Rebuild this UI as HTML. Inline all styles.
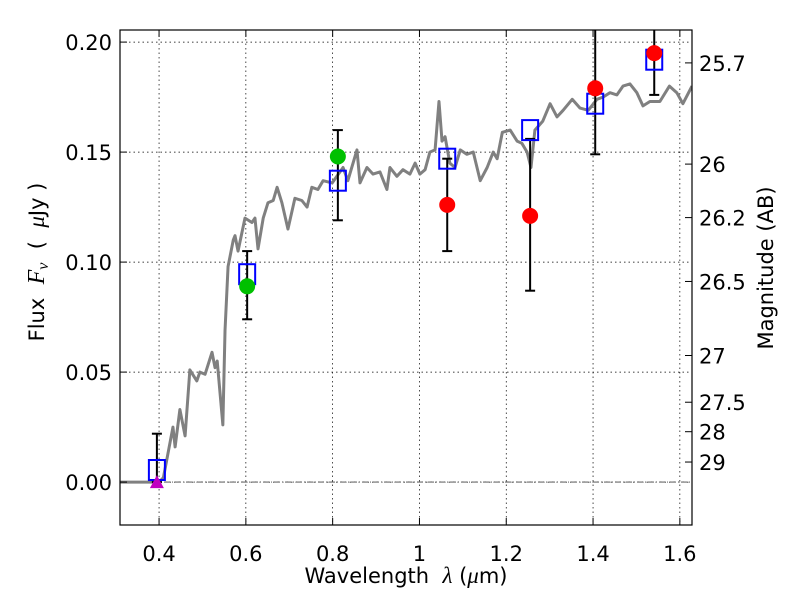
<!DOCTYPE html>
<html><head><meta charset="utf-8"><style>
body{margin:0;background:#fff;}
svg{font-family:"DejaVu Sans","Liberation Sans",sans-serif;}
</style></head><body>
<svg id="chart" width="800" height="600" xmlns="http://www.w3.org/2000/svg"></svg>
<script>
const xTicks=[0.4,0.6,0.8,1.0,1.2,1.4,1.6];
const xTickLabels=["0.4","0.6","0.8","1","1.2","1.4","1.6"];
const yTicks=[0,0.05,0.10,0.15,0.20];
const yTickLabels=["0.00","0.05","0.10","0.15","0.20"];
const magTicks=[25.7,26,26.2,26.5,27,27.5,28,29];
const magLabels=["25.7","26","26.2","26.5","27","27.5","28","29"];
const specWave=[0.31,0.40,0.41,0.432,0.437,0.448,0.46,0.471,0.487,0.494,0.506,0.522,0.529,0.534,0.547,0.552,0.559,0.571,0.575,0.582,0.598,0.614,0.621,0.628,0.64,0.651,0.663,0.672,0.683,0.697,0.713,0.729,0.741,0.752,0.766,0.778,0.799,0.824,0.835,0.856,0.863,0.879,0.893,0.909,0.925,0.932,0.948,0.962,0.978,0.99,1.001,1.013,1.024,1.036,1.045,1.052,1.059,1.07,1.082,1.094,1.109,1.124,1.14,1.156,1.17,1.179,1.191,1.209,1.225,1.236,1.248,1.257,1.266,1.284,1.301,1.317,1.331,1.352,1.37,1.389,1.409,1.423,1.439,1.455,1.469,1.485,1.501,1.515,1.531,1.554,1.576,1.593,1.607,1.628];
const specFlux=[0,0,0.002,0.025,0.016,0.033,0.021,0.051,0.046,0.05,0.049,0.059,0.052,0.055,0.026,0.069,0.098,0.11,0.112,0.105,0.12,0.118,0.12,0.106,0.12,0.127,0.128,0.134,0.127,0.115,0.129,0.128,0.125,0.134,0.133,0.137,0.136,0.143,0.137,0.151,0.136,0.143,0.14,0.141,0.133,0.143,0.139,0.142,0.14,0.145,0.14,0.142,0.15,0.151,0.173,0.155,0.157,0.145,0.143,0.151,0.149,0.15,0.137,0.143,0.15,0.147,0.159,0.16,0.155,0.154,0.15,0.143,0.16,0.164,0.172,0.166,0.169,0.174,0.17,0.169,0.174,0.175,0.177,0.176,0.18,0.181,0.177,0.171,0.173,0.173,0.18,0.177,0.172,0.18];
const modelWave=[0.395,0.603,0.812,1.064,1.255,1.405,1.541];
const modelFlux=[0.0055,0.0945,0.137,0.147,0.160,0.172,0.192];
const greenWave=[0.603,0.812];
const greenFlux=[0.089,0.148];
const greenLo=[0.074,0.119];
const greenHi=[0.105,0.160];
const redWave=[1.064,1.255,1.405,1.541];
const redFlux=[0.126,0.121,0.179,0.195];
const redLo=[0.105,0.087,0.149,0.176];
const redHi=[0.147,0.156,0.215,0.215];
const triWave=[0.395];
const triFlux=[0];
const triHi=[0.022];

const L=120,R=692,T=30,B=525;
const X0=0.310,X1=1.628,Y0=-0.0195,Y1=0.2055;
const sx=v=>L+(v-X0)/(X1-X0)*(R-L);
const sy=v=>B-(v-Y0)/(Y1-Y0)*(B-T);
const magToFlux=m=>Math.pow(10,(23.9-m)/2.5);
const svg=document.getElementById('chart');
const NS='http://www.w3.org/2000/svg';
function mk(tag,attrs,parent){const e=document.createElementNS(NS,tag);for(const k in attrs)e.setAttribute(k,attrs[k]);(parent||svg).appendChild(e);return e;}

const clip=mk('clipPath',{id:'pc'});mk('rect',{x:L,y:T,width:R-L,height:B-T},clip);
const plot=mk('g',{'clip-path':'url(#pc)'});



xTicks.forEach(v=>{const g=mk('line',{x1:sx(v),x2:sx(v),y1:T,y2:B,stroke:'#000','stroke-width':0.7,'stroke-dasharray':'1.5,3'},plot);

});
yTicks.forEach(v=>{const g=mk('line',{x1:L,x2:R,y1:sy(v),y2:sy(v),stroke:'#000','stroke-width':0.7,'stroke-dasharray':'1.5,3'},plot);

});
const zl=mk('line',{x1:L,x2:R,y1:sy(0),y2:sy(0),stroke:'#444','stroke-width':0.9,'stroke-dasharray':'6,2,1,2'},plot);



const sp=mk('polyline',{points:specWave.map((w,i)=>sx(w)+','+sy(specFlux[i])).join(' '),fill:'none',stroke:'#808080','stroke-width':3,'stroke-linejoin':'round'},plot);



function ebar(w,lo,hi,name){const g=mk('g',{stroke:'#000','stroke-width':2},plot);


const x=sx(w);mk('line',{x1:x,x2:x,y1:sy(lo),y2:sy(hi)},g);
mk('line',{x1:x-5,x2:x+5,y1:sy(lo),y2:sy(lo)},g);mk('line',{x1:x-5,x2:x+5,y1:sy(hi),y2:sy(hi)},g);}
triWave.forEach((w,i)=>ebar(w,triFlux[i],triHi[i],'upper-limit-errorbar'));
greenWave.forEach((w,i)=>ebar(w,greenLo[i],greenHi[i],'green-errorbar'));
redWave.forEach((w,i)=>ebar(w,redLo[i],redHi[i],'red-errorbar'));

modelWave.forEach((w,i)=>{const r=mk('rect',{x:sx(w)-8,y:sy(modelFlux[i])-10,width:16,height:20,fill:'none',stroke:'#0000ff','stroke-width':2},plot);

});
greenWave.forEach((w,i)=>{const c=mk('circle',{cx:sx(w),cy:sy(greenFlux[i]),r:8,fill:'#00c000'},plot);

});
redWave.forEach((w,i)=>{const c=mk('circle',{cx:sx(w),cy:sy(redFlux[i]),r:8,fill:'#ff0000'},plot);

});
triWave.forEach((w,i)=>{const x=sx(w),y=sy(triFlux[i]);const p=mk('polygon',{points:`${x-7},${y+6} ${x+7},${y+6} ${x},${y-7}`,fill:'#c000c0'},plot);

});

const fr=mk('rect',{x:L,y:T,width:R-L,height:B-T,fill:'none',stroke:'#000','stroke-width':1.2});



xTicks.forEach((v,i)=>{const x=sx(v);mk('line',{x1:x,x2:x,y1:B,y2:B-7,stroke:'#000'});mk('line',{x1:x,x2:x,y1:T,y2:T+7,stroke:'#000'});
const t=mk('text',{x:x,y:561,'text-anchor':'middle','font-size':21});t.textContent=xTickLabels[i];

});
yTicks.forEach((v,i)=>{const y=sy(v);mk('line',{x1:L,x2:L+7,y1:y,y2:y,stroke:'#000'});
const t=mk('text',{x:112,y:y+8,'text-anchor':'end','font-size':21});t.textContent=yTickLabels[i];

});
magTicks.forEach((m,i)=>{const y=sy(magToFlux(m));mk('line',{x1:R,x2:R-7,y1:y,y2:y,stroke:'#000'});
const t=mk('text',{x:699,y:y+8,'font-size':21});t.textContent=magLabels[i];

});

const xl=mk('text',{x:406,y:583,'text-anchor':'middle','font-size':21});
xl.innerHTML='Wavelength\u00a0\u00a0<tspan font-family="Liberation Serif,serif" font-style="italic" font-size="23">λ</tspan>\u00a0(<tspan font-family="Liberation Serif,serif" font-style="italic" font-size="23">μ</tspan>m)';


const yl=mk('text',{x:0,y:0,'text-anchor':'middle','font-size':21,transform:'translate(44,262) rotate(-90)'});
yl.innerHTML='Flux\u00a0\u00a0<tspan font-family="Liberation Serif,serif" font-style="italic" font-size="24">F</tspan><tspan font-family="Liberation Serif,serif" font-style="italic" font-size="16" dy="4">ν</tspan><tspan dy="-4">\u00a0\u00a0(\u00a0\u00a0</tspan><tspan font-family="Liberation Serif,serif" font-style="italic" font-size="23">μ</tspan>Jy )';


const rl=mk('text',{x:0,y:0,'text-anchor':'middle','font-size':21,transform:'translate(773,268) rotate(-90)'});
rl.textContent='Magnitude (AB)';


</script>
</body></html>
